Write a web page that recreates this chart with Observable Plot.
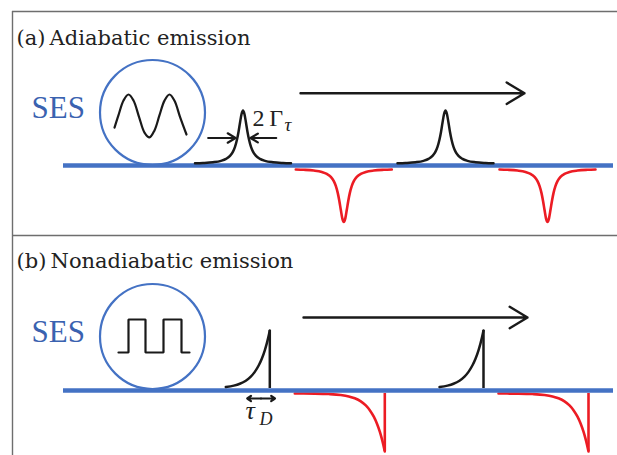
<!DOCTYPE html>
<html><head><meta charset="utf-8">
<script src="https://cdn.jsdelivr.net/npm/d3@7"></script>
<script src="https://cdn.jsdelivr.net/npm/@observablehq/plot@0.6"></script>
<style>body{margin:0;background:#fff}#chart svg{display:block}</style>
</head><body><div id="chart"></div>
<script>
// ---- diagram data (diagram units = pixels of the 617x455 canvas) ----
const panelTitles = ["(a)\u2009Adiabatic emission", "(b)\u2009Nonadiabatic emission"];
const panelTitleX = [16, 16];
const panelTitleY = [44, 267];

const sesX = [31, 31];
const sesY = [117, 341];

const circleX = [152, 152];
const circleY = [112, 336];

const baselineY = [165, 390];
const baselineX1 = [63, 63];
const baselineX2 = [613, 613];

// frame lines
const frameH = [11, 235];           // horizontal rules
const frameV = [12];                // vertical rule

// sine wave inside circle (a)
const sineX = [114, 118, 123, 128, 133, 138.5, 144, 149, 154, 159, 164, 169, 174, 179.5, 186];
const sineY = [127.2, 114.7, 100.0, 94, 100.0, 116.3, 132.1, 136.9, 129.9, 114.7, 100.1, 94, 100.3, 116.3, 134.0];

// square wave inside circle (b)
const squareX = [118, 128, 128, 145, 145, 163, 163, 181, 181, 189];
const squareY = [352, 352, 319, 319, 352, 352, 319, 319, 352, 352];

// Lorentzian profile (half), read from the peak shape
const lorOffsets = [0, 1.5, 3, 4.5, 6, 8, 10, 13, 17, 22, 30, 40, 48];
const lorValues  = [1, 0.931, 0.771, 0.599, 0.457, 0.321, 0.232, 0.152, 0.095, 0.059, 0.0325, 0.0186, 0.013];

// panel (a) peaks
const adiaPeakCenters = [242.5, 445];
const adiaPeakBase = 163.5, adiaPeakHeight = 53.5;
const adiaDipCenters = [343.3, 547];
const adiaDipBase = 168.3, adiaDipDepth = 53.2;

// exponential (one-sided) profile, read from the pulse shape
const expOffsets = [-90, -70, -56, -44, -36, -30, -24, -19, -15, -11, -8, -5, -3, -1.5, 0];
const expValues  = [0.0006, 0.0029, 0.0094, 0.0256, 0.0498, 0.082, 0.135, 0.205, 0.287, 0.40, 0.513, 0.659, 0.779, 0.882, 1];

// panel (b) pulses
const nonPeakEdges = [269.3, 483];
const nonPeakBase = 388, nonPeakHeight = 58, nonPeakStart = -46;
const nonDipEdges = [384.3, 588];
const nonDipBase = 393, nonDipDepth = 58;

// arrows
const longArrowX1 = [300, 303], longArrowX2 = [524, 527], longArrowY = [92.7, 317];
const gammaArrowX1 = [207.7, 275.7], gammaArrowX2 = [235, 250], gammaArrowY = [137.5, 137.5];
const tauArrowX1 = [260.5, 260.5], tauArrowX2 = [246.7, 274.5], tauArrowY = [398, 398];

// annotation labels
const gammaMain = "2\u2009\u0393", gammaMainX = 252, gammaMainY = 125;
const gammaSub = "\u03C4", gammaSubX = 284, gammaSubY = 130;
const tauMain = "\u03C4", tauMainX = 245, tauMainY = 418;
const tauSub = "D", tauSubX = 259, tauSubY = 424;

// ---- build tables ----
const BLUE = "#4472c4", RED = "#ec1c24", BLACK = "#1a1a1a";
const lorFull = [];
for (let i = lorOffsets.length - 1; i > 0; i--) lorFull.push([-lorOffsets[i], lorValues[i]]);
for (let i = 0; i < lorOffsets.length; i++) lorFull.push([lorOffsets[i], lorValues[i]]);

const blackCurves = [], redCurves = [];
adiaPeakCenters.forEach((c, k) => lorFull.forEach(([dx, v]) =>
  blackCurves.push({id: "a" + k, x: c + dx, y: adiaPeakBase - adiaPeakHeight * v})));
adiaDipCenters.forEach((c, k) => lorFull.forEach(([dx, v]) =>
  redCurves.push({id: "a" + k, x: c + dx, y: adiaDipBase + adiaDipDepth * v})));
nonPeakEdges.forEach((c, k) => expOffsets.forEach((dx, i) => {
  if (dx >= nonPeakStart) blackCurves.push({id: "b" + k, x: c + dx, y: nonPeakBase - nonPeakHeight * expValues[i]});
}));
nonDipEdges.forEach((c, k) => expOffsets.forEach((dx, i) =>
  redCurves.push({id: "b" + k, x: c + dx, y: nonDipBase + nonDipDepth * expValues[i]})));

const blackDrops = nonPeakEdges.map(x => ({x, y1: nonPeakBase - nonPeakHeight, y2: nonPeakBase}));
const redDrops = nonDipEdges.map(x => ({x, y1: nonDipBase, y2: nonDipBase + nonDipDepth}));

const sine = sineX.map((x, i) => ({x, y: sineY[i]}));
const square = squareX.map((x, i) => ({x, y: squareY[i]}));
const baselines = baselineY.map((y, i) => ({y, x1: baselineX1[i], x2: baselineX2[i]}));
const circles = circleX.map((x, i) => ({x, y: circleY[i]}));
const titles = panelTitles.map((t, i) => ({t, x: panelTitleX[i], y: panelTitleY[i]}));
const ses = sesX.map((x, i) => ({t: "SES", x, y: sesY[i]}));
const mk = (a, b, c) => a.map((x1, i) => ({x1, x2: b[i], y: c[i]}));
const longArrows = mk(longArrowX1, longArrowX2, longArrowY);
const gammaArrows = mk(gammaArrowX1, gammaArrowX2, gammaArrowY);
const tauArrows = mk(tauArrowX1, tauArrowX2, tauArrowY);

const SERIF = "'DejaVu Serif', serif";
const TIMES = "'Liberation Serif', 'DejaVu Serif', serif";

const chart = Plot.plot({
  width: 617, height: 455, margin: 0,
  style: {background: "#fff", overflow: "visible"},
  x: {domain: [0, 617], range: [0, 617], axis: null},
  y: {domain: [0, 455], range: [0, 455], axis: null},
  marks: [
    Plot.ruleY(frameH, {y: d => d, x1: 12, x2: 617, stroke: "#6e6e6e", strokeWidth: 1.4}),
    Plot.ruleX(frameV, {x: d => d, y1: 11, y2: 455, stroke: "#6e6e6e", strokeWidth: 1.4}),
    Plot.line(redCurves, {x: "x", y: "y", z: "id", stroke: RED, strokeWidth: 2.6, curve: "monotone-x"}),
    Plot.ruleX(redDrops, {x: "x", y1: "y1", y2: "y2", stroke: RED, strokeWidth: 2.6}),
    Plot.ruleY(baselines, {y: "y", x1: "x1", x2: "x2", stroke: BLUE, strokeWidth: 4.5}),
    Plot.line(blackCurves, {x: "x", y: "y", z: "id", stroke: BLACK, strokeWidth: 2.5, curve: "monotone-x"}),
    Plot.ruleX(blackDrops, {x: "x", y1: "y1", y2: "y2", stroke: BLACK, strokeWidth: 2.5}),
    Plot.dot(circles, {x: "x", y: "y", r: 52.5, stroke: BLUE, strokeWidth: 2.2, fill: "none"}),
    Plot.line(sine, {x: "x", y: "y", stroke: BLACK, strokeWidth: 2.2, curve: "catmull-rom"}),
    Plot.line(square, {x: "x", y: "y", stroke: BLACK, strokeWidth: 2.2, strokeLinejoin: "miter"}),
    Plot.arrow(longArrows, {x1: "x1", x2: "x2", y1: "y", y2: "y", stroke: BLACK, strokeWidth: 2.4, headLength: 13, headAngle: 62}),
    Plot.arrow(gammaArrows, {x1: "x1", x2: "x2", y1: "y", y2: "y", stroke: BLACK, strokeWidth: 2.2, headLength: 10, headAngle: 62}),
    Plot.arrow(tauArrows, {x1: "x1", x2: "x2", y1: "y", y2: "y", stroke: BLACK, strokeWidth: 2.2, headLength: 9, headAngle: 70}),
    Plot.text(titles, {x: "x", y: "y", text: "t", textAnchor: "start", lineAnchor: "bottom", fontFamily: SERIF, fontSize: 21, fill: "#222"}),
    Plot.text(ses, {x: "x", y: "y", text: "t", textAnchor: "start", lineAnchor: "bottom", fontFamily: TIMES, fontSize: 31, fill: "#3a62b0"}),
    Plot.text([gammaMain], {x: gammaMainX, y: gammaMainY, text: d => d, textAnchor: "start", lineAnchor: "bottom", fontFamily: TIMES, fontSize: 24, fill: "#222"}),
    Plot.text([gammaSub], {x: gammaSubX, y: gammaSubY, text: d => d, textAnchor: "start", lineAnchor: "bottom", fontFamily: TIMES, fontStyle: "italic", fontSize: 19, fill: "#222"}),
    Plot.text([tauMain], {x: tauMainX, y: tauMainY, text: d => d, textAnchor: "start", lineAnchor: "bottom", fontFamily: TIMES, fontStyle: "italic", fontSize: 26, fill: "#222"}),
    Plot.text([tauSub], {x: tauSubX, y: tauSubY, text: d => d, textAnchor: "start", lineAnchor: "bottom", fontFamily: TIMES, fontStyle: "italic", fontSize: 18, fill: "#222"})
  ]
});
document.getElementById("chart").appendChild(chart);
</script>
</body></html>
